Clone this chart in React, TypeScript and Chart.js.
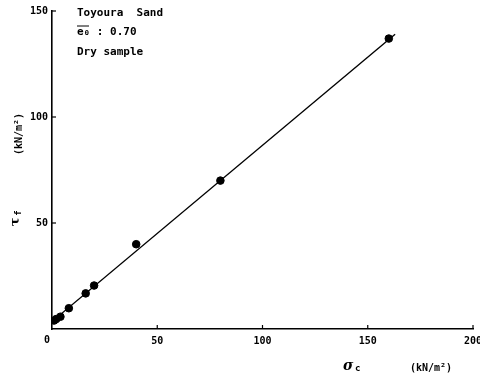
import React, { useEffect, useRef } from "react";
import { Chart, registerables } from "chart.js";

Chart.register(...registerables);

const measuredPoints: { x: number; y: number }[] = [
  { x: 1, y: 4 },
  { x: 2, y: 4.7 },
  { x: 4, y: 5.8 },
  { x: 8, y: 9.8 },
  { x: 16, y: 16.8 },
  { x: 20, y: 20.5 },
  { x: 40, y: 40 },
  { x: 80, y: 70 },
  { x: 160, y: 137 },
];
const fitLine: { x: number; y: number }[] = [
  { x: 0, y: 3.5 },
  { x: 163, y: 139 },
];
const xTicks = [0, 50, 100, 150, 200];
const yTicks = [0, 50, 100, 150];
const annotationLines = ["Toyoura  Sand", "e\u2080 : 0.70", "Dry sample"];

const MONO = "'DejaVu Sans Mono', 'Liberation Mono', monospace";

const decorPlugin = {
  id: "decor",
  afterDraw(chart: any) {
    const ctx = chart.ctx as CanvasRenderingContext2D;
    const xs = chart.scales.x;
    const ys = chart.scales.y;
    const area = chart.chartArea;
    ctx.save();
    ctx.strokeStyle = "#000";
    ctx.lineWidth = 1.2;
    // inward ticks
    xTicks.forEach((v) => {
      const px = xs.getPixelForValue(v);
      if (v === 0) return;
      ctx.beginPath();
      ctx.moveTo(px, area.bottom);
      ctx.lineTo(px, area.bottom - 4);
      ctx.stroke();
    });
    yTicks.forEach((v) => {
      const py = ys.getPixelForValue(v);
      if (v === 0) return;
      ctx.beginPath();
      ctx.moveTo(area.left, py);
      ctx.lineTo(area.left + 4, py);
      ctx.stroke();
    });
    ctx.fillStyle = "#000";
    // origin label, offset left of the axis corner
    ctx.font = `bold 10px ${MONO}`;
    ctx.textAlign = "center";
    ctx.textBaseline = "top";
    ctx.fillText(String(xTicks[0]), area.left - 5, area.bottom + 6);

    // annotations
    ctx.font = `bold 11px ${MONO}`;
    ctx.textAlign = "left";
    ctx.textBaseline = "middle";
    const ax = 77;
    ctx.fillText(annotationLines[0], ax, 13);
    ctx.fillText(annotationLines[1], ax, 32);
    ctx.beginPath();
    ctx.moveTo(ax, 26);
    ctx.lineTo(ax + 12, 26);
    ctx.lineWidth = 1;
    ctx.stroke();
    ctx.fillText(annotationLines[2], ax, 52);

    // y axis title (rotated)
    ctx.save();
    ctx.translate(19, 134);
    ctx.rotate(-Math.PI / 2);
    ctx.textAlign = "center";
    ctx.font = `bold 10px ${MONO}`;
    ctx.fillText("(kN/m\u00B2)", 0, 0);
    ctx.restore();
    ctx.save();
    ctx.translate(16, 219);
    ctx.rotate(-Math.PI / 2);
    ctx.textAlign = "center";
    ctx.font = `bold 13px 'DejaVu Serif', serif`;
    ctx.fillText("\u03C4", -3, 0);
    ctx.font = `bold 9px ${MONO}`;
    ctx.fillText("f", 6, 3);
    ctx.restore();

    // x axis title
    ctx.textAlign = "left";
    ctx.font = `italic bold 14px 'DejaVu Serif', serif`;
    ctx.fillText("\u03C3", 343, 366);
    ctx.font = `bold 9px ${MONO}`;
    ctx.fillText("c", 355, 369);
    ctx.font = `bold 10px ${MONO}`;
    ctx.fillText("(kN/m\u00B2)", 410, 368);
    ctx.restore();
  },
};

export default function App() {
  const ref = useRef<HTMLCanvasElement | null>(null);
  useEffect(() => {
    if (!ref.current) return;
    const chart = new Chart(ref.current, {
      type: "scatter",
      data: {
        datasets: [
          {
            type: "line",
            data: fitLine,
            borderColor: "#000",
            borderWidth: 1.4,
            pointRadius: 0,
            fill: false,
          } as any,
          {
            type: "scatter",
            data: measuredPoints,
            backgroundColor: "#000",
            borderColor: "#000",
            pointRadius: 3.8,
          },
        ],
      },
      options: {
        animation: false,
        responsive: false,
        maintainAspectRatio: false,
        layout: { padding: { left: 0, top: 11, right: 7, bottom: 0 } },
        plugins: { legend: { display: false }, tooltip: { enabled: false } },
        scales: {
          x: {
            type: "linear",
            min: 0,
            max: 200,
            afterBuildTicks: (s: any) => {
              s.ticks = xTicks.filter((v) => v !== 0).map((v) => ({ value: v }));
            },
            afterFit: (s: any) => {
              s.height = 49;
              s.paddingLeft = 0;
              s.paddingRight = 0;
            },
            grid: { drawOnChartArea: false, drawTicks: false },
            border: { color: "#000", width: 1.6 },
            ticks: {
              color: "#000",
              padding: 6,
              font: { family: MONO, size: 10, weight: "bold" },
              maxRotation: 0,
              autoSkip: false,
            },
          },
          y: {
            type: "linear",
            min: 0,
            max: 150,
            afterBuildTicks: (s: any) => {
              s.ticks = yTicks.filter((v) => v !== 0).map((v) => ({ value: v }));
            },
            afterFit: (s: any) => {
              s.width = 52;
              s.paddingTop = 0;
              s.paddingBottom = 0;
            },
            grid: { drawOnChartArea: false, drawTicks: false },
            border: { color: "#000", width: 1.6 },
            ticks: {
              color: "#000",
              padding: 4,
              font: { family: MONO, size: 10, weight: "bold" },
            },
          },
        },
      },
      plugins: [decorPlugin],
    });
    return () => chart.destroy();
  }, []);
  return (
    <div style={{ position: "fixed", left: 0, top: 0, width: 480, height: 378, background: "#fff" }}>
      <canvas ref={ref} width={480} height={378} style={{ width: 480, height: 378 }} />
    </div>
  );
}
